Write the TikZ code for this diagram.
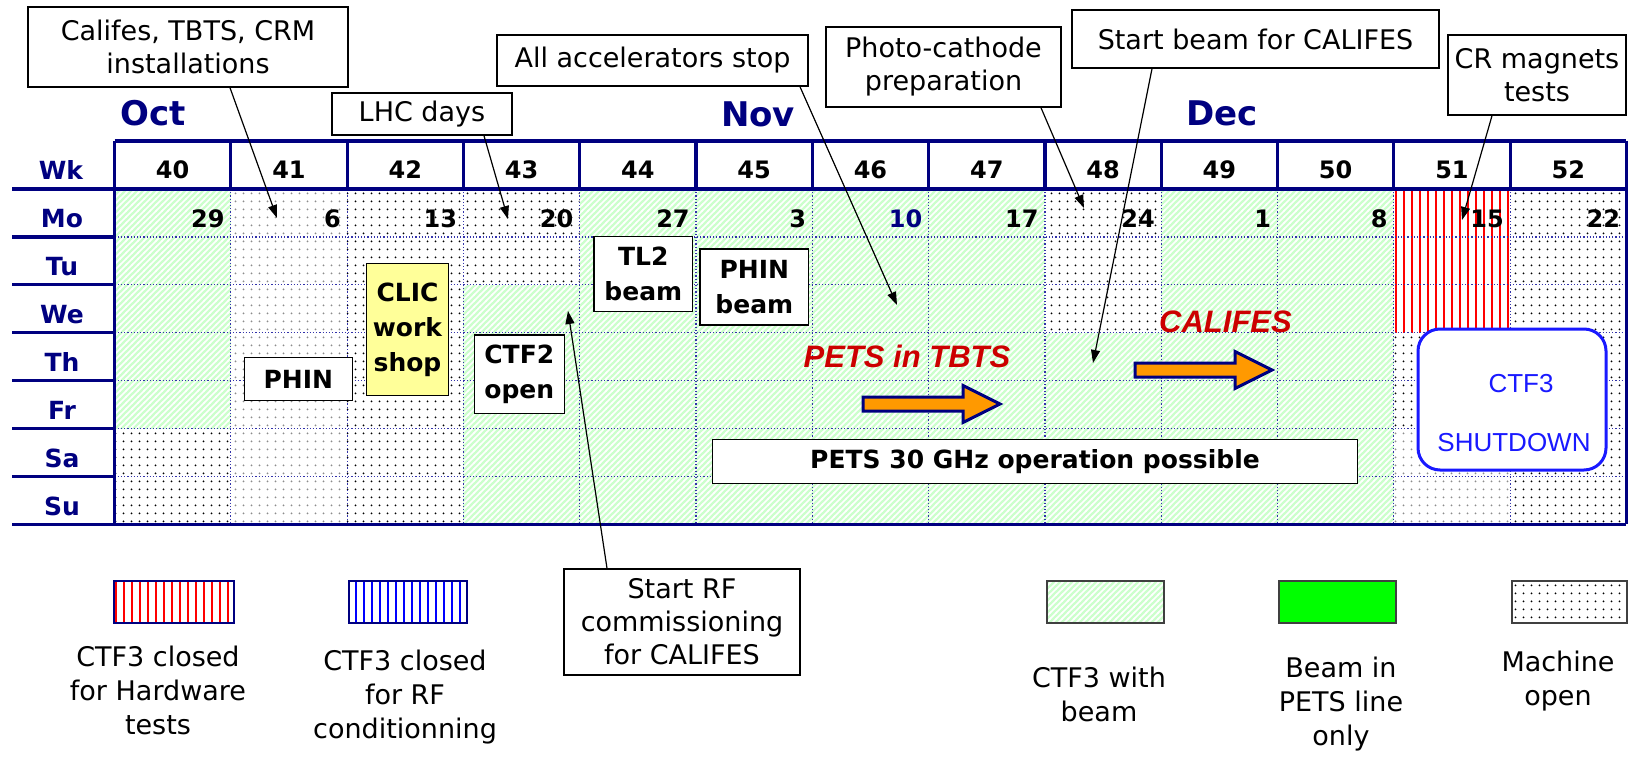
\documentclass[tikz,border=0pt]{standalone}
\usepackage{fontspec}
\setmainfont{DejaVu Sans}
\newfontfamily\arialfont{Liberation Sans}
\usepackage{tikz}
\usetikzlibrary{arrows.meta, positioning, calc, patterns.meta}

\definecolor{navy}{RGB}{0,0,128}
\definecolor{gridblue}{RGB}{50,50,170}
\definecolor{beamgreen}{RGB}{204,255,204}
\definecolor{litegreen}{RGB}{0,255,0}
\definecolor{petsred}{RGB}{204,0,0}
\definecolor{arroworange}{RGB}{255,153,0}
\definecolor{clicyellow}{RGB}{255,255,153}
\definecolor{shutblue}{RGB}{25,25,255}

% fill patterns of the calendar cells
\tikzdeclarepattern{
  name=dotgrid, type=uncolored,
  bounding box={(0pt,0pt) and (8pt,8pt)},
  tile size={(8pt,8pt)},
  code={\fill (4pt,4pt) circle (1.1pt);}
}
\tikzdeclarepattern{
  name=slanthatch, type=uncolored,
  bounding box={(-1pt,-1pt) and (7pt,7pt)},
  tile size={(6pt,6pt)},
  code={\draw[line width=1.5pt] (-1pt,-1pt) -- (7pt,7pt);}
}
\tikzdeclarepattern{
  name=vstripes, type=uncolored,
  bounding box={(0pt,-1pt) and (8pt,9pt)},
  tile size={(8pt,8pt)},
  code={\draw[line width=2pt] (4pt,-1pt) -- (4pt,9pt);}
}

\begin{document}
\begin{tikzpicture}[
  x=1pt, y=-1pt,
  cellB/.style={fill=beamgreen, postaction={pattern=slanthatch, pattern color=white}},
  cellO/.style={fill=white, postaction={pattern=dotgrid, pattern color=black}},
  cellL/.style={fill=white, postaction={pattern=dotgrid, pattern color=black!45}},
  cellH/.style={fill=white, postaction={pattern=vstripes, pattern color=red}},
  cellR/.style={fill=white, postaction={pattern=vstripes, pattern color=blue}},
  thickline/.style={navy, line width=3.2pt},
  dotline/.style={gridblue, line width=1.2pt, dash pattern=on 1.2pt off 2pt},
  rowlab/.style={navy, font=\bfseries\fontsize{25}{25}\selectfont},
  wknum/.style={font=\bfseries\fontsize{24}{24}\selectfont},
  daynum/.style={anchor=east, font=\bfseries\fontsize{24}{24}\selectfont},
  month/.style={navy, font=\bfseries\fontsize{34}{34}\selectfont},
  callout/.style={draw=black, line width=1.5pt, fill=white, align=center, inner sep=0pt,
    font=\fontsize{27}{33}\selectfont},
  tagbox/.style={draw=black, line width=1.5pt, fill=white, align=center, inner sep=0pt,
    font=\bfseries\fontsize{25}{35}\selectfont},
  callarrow/.style={line width=1.2pt, -{Triangle[length=13pt, width=9pt]}},
  fatarrow/.style={fill=arroworange, draw=navy, line width=3pt, line join=miter},
  runlabel/.style={petsred, font=\arialfont\bfseries\itshape\fontsize{31}{31}\selectfont},
  legbox/.style={line width=1.5pt},
  legtext/.style={align=center, font=\fontsize{27}{34}\selectfont},
]
\useasboundingbox (0,0) rectangle (1628,757);
\fill[white] (0,0) rectangle (1628,757);

% --- Calendar cells ---
\foreach \wk/\day/\dcol/\cells [count=\i from 0] in {
  40/29/black/{B,B,B,B,B,O,O},
  41/6/black/{L,L,L,L,L,L,L},
  42/13/black/{O,O,O,O,O,O,O},
  43/20/black/{O,O,B,B,B,B,B},
  44/27/black/{B,B,B,B,B,B,B},
  45/3/black/{B,B,B,B,B,B,B},
  46/10/navy/{B,B,B,B,B,B,B},
  47/17/black/{B,B,B,B,B,B,B},
  48/24/black/{O,O,O,B,B,B,B},
  49/1/black/{B,B,B,B,B,B,B},
  50/8/black/{B,B,B,B,B,B,B},
  51/15/black/{H,H,H,O,O,L,L},
  52/22/black/{O,O,O,O,O,O,O}} {
  \foreach \k [count=\r from 0] in \cells
    \fill[cell\k] (114.5+116.3*\i, 189+47.9*\r) rectangle ++(116.3, 47.9);
  \node[wknum] (wk\wk) at (172.65+116.3*\i, 170) {\wk};
  \node[daynum, text=\dcol] (day\wk) at (228+116.3*\i, 219) {\day};
}

% --- Grid ---
\foreach \r in {1,...,6}
  \draw[dotline] (114.5, 189+47.9*\r) -- (1626.4, 189+47.9*\r);
\foreach \i in {1,...,12}
  \draw[dotline] (114.5+116.3*\i, 189) -- (114.5+116.3*\i, 524.3);
\foreach \i in {0,...,13}
  \draw[thickline] (114.5+116.3*\i, 141) -- (114.5+116.3*\i, 189);
\draw[thickline] (114.5, 141) -- (1626.4, 141);
\draw[thickline] (12, 189) -- (1626.4, 189);
\draw[thickline] (12, 524.3) -- (1626.4, 524.3);
\draw[thickline] (114.5, 141) -- (114.5, 524.3);
\draw[thickline] (1626.4, 141) -- (1626.4, 524.3);
\foreach \r in {1,...,6}
  \draw[thickline] (12, 189+47.9*\r) -- (114.5, 189+47.9*\r);

% --- Row and month labels ---
\node[rowlab] (labWk) at (61, 170) {Wk};
\foreach \d [count=\r from 0] in {Mo,Tu,We,Th,Fr,Sa,Su}
  \node[rowlab] (lab\d) at (62, 218.5+47.9*\r) {\d};
\node[month] (oct) at (153, 113) {Oct};
\node[month] (nov) at (758, 114) {Nov};
\node[month] (dec) at (1222, 113) {Dec};

% --- Boxes inside the calendar ---
\node[tagbox, minimum width=108, minimum height=43] (phin) at (298.3, 379.2) {PHIN};
\node[tagbox, fill=clicyellow, minimum width=81.6, minimum height=132.4] (clic) at (407.5, 329.5) {CLIC\\work\\shop};
\node[tagbox, minimum width=90, minimum height=78.3] (ctf2) at (519.3, 374.2) {CTF2\\open};
\node[tagbox, minimum width=98.7, minimum height=75] (tl2) at (643.3, 274.2) {TL2\\beam};
\node[tagbox, minimum width=108.7, minimum height=76] (phinbeam) at (754.3, 287) {PHIN\\beam};
\node[tagbox, minimum width=644.6, minimum height=44] (pets30) at (1035, 461.3) {PETS 30 GHz operation possible};

\node[runlabel] (petstbts) at (907, 356) {PETS in TBTS};
\node[runlabel] (califes) at (1225.5, 321.7) {CALIFES};
\foreach \ax/\ay in {863/404, 1135/370}
  \draw[fatarrow] (\ax, \ay-7) -- ++(100, 0) -- ++(0, -11.5) -- (\ax+137, \ay)
    -- (\ax+100, \ay+18.5) -- ++(0, -11.5) -- (\ax, \ay+7) -- cycle;

% shutdown
\node[draw=shutblue, line width=3pt, fill=white, rounded corners=22pt,
  minimum width=188, minimum height=141] (shutdown) at (1512, 399.5) {};
\node[text=shutblue, font=\arialfont\fontsize{26}{26}\selectfont] (shutA) at (1521, 384) {CTF3};
\node[text=shutblue, font=\arialfont\fontsize{26}{26}\selectfont] (shutB) at (1514, 443) {SHUTDOWN};

% --- Callouts ---
\node[callout, minimum width=320, minimum height=80] (install) at (188, 47) {Califes, TBTS, CRM\\installations};
\node[callout, minimum width=180, minimum height=42] (lhc) at (422, 114) {LHC days};
\node[callout, minimum width=311, minimum height=51] (accstop) at (652.5, 60.5) {All accelerators stop};
\node[callout, minimum width=235, minimum height=80] (photo) at (943.5, 67) {Photo-cathode\\preparation};
\node[callout, minimum width=367, minimum height=58] (startbeam) at (1255.5, 39) {Start beam for CALIFES};
\node[callout, minimum width=178, minimum height=80] (crmag) at (1537, 75) {CR magnets\\tests};
\node[callout, minimum width=236, minimum height=106] (startrf) at (682, 622) {Start RF\\commissioning\\for CALIFES};

\coordinate (tipInstall) at (277, 218);
\coordinate (tipLhc) at (508, 219);
\coordinate (tipStop) at (897, 305);
\coordinate (tipPhoto) at (1084, 208);
\coordinate (tipBeam) at (1093, 363);
\coordinate (tipCr) at (1462, 220);
\coordinate (tipRf) at (568, 311);

\draw[callarrow] ([xshift=42pt]install.south) -- (tipInstall);
\draw[callarrow] ([xshift=62pt]lhc.south) -- (tipLhc);
\draw[callarrow] ([xshift=147.5pt]accstop.south) -- (tipStop);
\draw[callarrow] ([xshift=97.5pt]photo.south) -- (tipPhoto);
\draw[callarrow] ([xshift=-103.5pt]startbeam.south) -- (tipBeam);
\draw[callarrow] ([xshift=-45pt]crmag.south) -- (tipCr);
\draw[callarrow] ([xshift=-75pt]startrf.north) -- (tipRf);

% --- Legend ---
\fill[cellH] (114, 581) rectangle (234, 623);
\draw[legbox, navy] (114, 581) rectangle (234, 623);
\fill[cellR] (349, 581) rectangle (467, 623);
\draw[legbox, navy] (349, 581) rectangle (467, 623);
\fill[cellB] (1047, 581) rectangle (1164, 623);
\draw[legbox, black!75] (1047, 581) rectangle (1164, 623);
\fill[litegreen] (1279, 581) rectangle (1396, 623);
\draw[legbox, black!75] (1279, 581) rectangle (1396, 623);
\fill[cellO] (1512, 581) rectangle (1627, 623);
\draw[legbox, black!75] (1512, 581) rectangle (1627, 623);

\node[legtext] (lgHw) at (158, 690) {CTF3 closed\\for Hardware\\tests};
\node[legtext] (lgRf) at (405, 697) {CTF3 closed\\for RF\\conditionning};
\node[legtext] (lgBeam) at (1099, 694) {CTF3 with\\beam};
\node[legtext] (lgPets) at (1341, 704) {Beam in\\PETS line\\only};
\node[legtext] (lgOpen) at (1558, 681) {Machine\\open};

\end{tikzpicture}
\end{document}
